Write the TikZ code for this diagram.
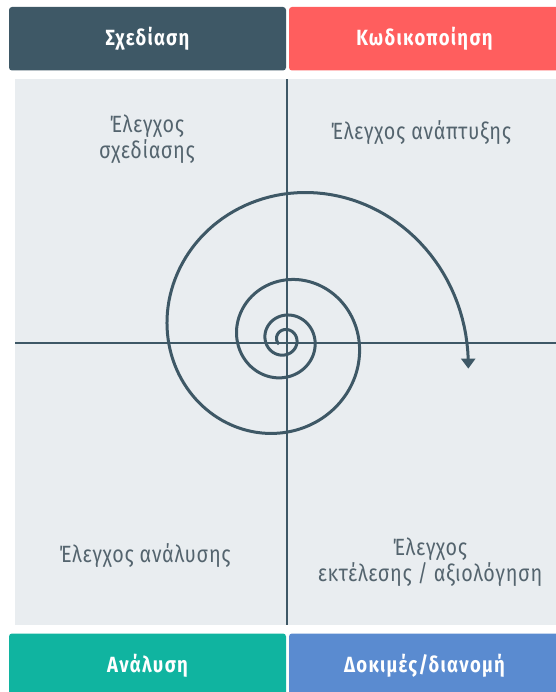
\documentclass[tikz,border=0pt]{standalone}
\usepackage{fontspec}
\setmainfont[FakeStretch=0.84, LetterSpace=3]{Fira Sans}
\newfontfamily\headfont[FakeStretch=0.84, LetterSpace=6]{Fira Sans}
\usetikzlibrary{arrows.meta}
\definecolor{slate}{RGB}{62,88,102}
\definecolor{coral}{RGB}{255,94,94}
\definecolor{teal}{RGB}{16,180,160}
\definecolor{steel}{RGB}{90,139,208}
\definecolor{panel}{RGB}{233,237,240}
\definecolor{inktext}{RGB}{84,100,110}
\begin{document}
\begin{tikzpicture}[x=1pt, y=-1pt, >=Stealth,
  phase/.style={rectangle, rounded corners=3pt, minimum width=#1, minimum height=63.5pt,
    text=white, font=\headfont\fontsize{22}{26}\selectfont\bfseries},
  check/.style={align=center, text=inktext, font=\fontsize{23.5}{26}\selectfont},
  spiral/.style={draw=slate, line width=3pt}]
  % 1. Background: Flaeche, Achsen.
  % 2. Midground: Phasen oben und unten, Spirale.
  % 3. Foreground: Texte der Quadranten.
  \useasboundingbox (0,0) rectangle (555,692);
  \fill[panel] (15,79.5) rectangle (560,625);

  \coordinate (axtop) at (287,79.5);
  \coordinate (axbot) at (287,625);
  \coordinate (axleft) at (15,343);
  \coordinate (axright) at (560,343);
  \draw[slate, line width=1.6pt] (axtop) -- (axbot);
  \draw[slate, line width=1.6pt] (axleft) -- (axright);

  \node[phase=277pt, fill=slate] (design) at (147.5,38.75) {Σχεδίαση};
  \node[phase=271pt, fill=coral] (coding) at (424.5,38.75) {Κωδικοποίηση};
  \node[phase=277pt, fill=teal] (analysis) at (147.5,665.25) {Ανάλυση};
  \node[phase=271pt, fill=steel] (testing) at (424.5,665.25) {Δοκιμές/διανομή};

  \draw[spiral, -{Triangle[width=14pt, length=10pt]}]
    plot[domain=-1300:9, samples=500]
    ({284.5+182*exp(0.00248*\x)*cos(\x)}, {339.5+182*exp(0.00248*\x)*sin(\x)});

  \node[check] (chkdesign) at (147,139) {Έλεγχος\\σχεδίασης};
  \node[check] (chkdev) at (421,133) {Έλεγχος ανάπτυξης};
  \node[check] (chkana) at (145,556) {Έλεγχος ανάλυσης};
  \node[check] (chkrun) at (430,562) {Έλεγχος\\εκτέλεσης / αξιολόγηση};
\end{tikzpicture}
\end{document}
